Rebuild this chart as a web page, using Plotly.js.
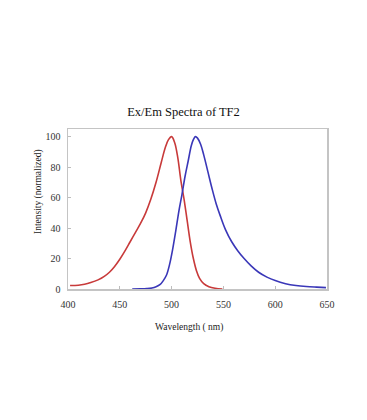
<!DOCTYPE html>
<html>
<head>
<meta charset="utf-8">
<script src="https://cdn.plot.ly/plotly-3.0.1.min.js"></script>
<style>html,body{margin:0;padding:0;background:#fff;}#chart{width:367px;height:420px;}</style>
</head>
<body>
<div id="chart"></div>
<script>
const exWavelength = [402, 410, 416, 422, 429, 435, 440, 445, 450, 455, 460, 465, 470, 475, 480, 485, 490, 494, 497, 500, 503, 506, 509, 512, 515, 518, 521, 524, 527, 531, 536, 542, 549];
const exIntensity  = [2.3, 2.5, 3.1, 4.2, 6, 8.3, 11, 14.8, 19.5, 25, 31, 37, 43, 50, 59, 70, 83, 93, 98, 100, 96, 86, 71, 59, 45, 31, 20, 12, 7, 3.5, 1.5, 0.5, 0];
const emWavelength = [462, 470, 476, 481, 485, 489, 492, 495, 498, 501, 504, 507, 510, 513, 516, 519, 521, 523, 525, 528, 531, 535, 539, 543, 547, 552, 558, 564, 570, 577, 584, 592, 600, 610, 620, 630, 640, 649];
const emIntensity  = [0, 0.1, 0.3, 0.7, 1.5, 3, 5.5, 9, 16, 26, 38, 51, 62, 74, 84, 94, 98, 100, 99, 95, 88, 77, 66, 56, 48, 39, 31, 25, 20, 15, 11, 7.8, 5.5, 3.5, 2.3, 1.6, 1.2, 0.9];
const xTicks = [400, 450, 500, 550, 600, 650];
const yTicks = [0, 20, 40, 60, 80, 100];

const serif = 'Liberation Serif, Times New Roman, serif';
const traces = [
  {x: exWavelength, y: exIntensity, mode: 'lines', line: {color: '#c83a3a', width: 1.6, shape: 'spline'}, hoverinfo: 'skip'},
  {x: emWavelength, y: emIntensity, mode: 'lines', line: {color: '#3a37b8', width: 1.6, shape: 'spline'}, hoverinfo: 'skip'}
];
const layout = {
  width: 367, height: 420,
  margin: {l: 68, r: 40, t: 129, b: 131},
  paper_bgcolor: '#fff', plot_bgcolor: '#fff',
  showlegend: false,
  font: {family: serif, color: '#222', size: 10},
  title: {text: 'Ex/Em Spectra of TF2', font: {family: serif, size: 12.5, color: '#111'},
          xref: 'container', x: 0.5, xanchor: 'center', yref: 'container', y: 1 - 111.5/420, yanchor: 'middle'},
  xaxis: {range: [400, 650], tickvals: xTicks, ticks: 'inside', ticklen: 3, tickcolor: '#bdbdbd',
          showline: true, mirror: true, linecolor: '#c4c4c4', linewidth: 1.5, showgrid: false, zeroline: false,
          ticklabelstandoff: 5,
          tickfont: {family: serif, size: 10, color: '#333'}, fixedrange: true},
  yaxis: {range: [0, 105], tickvals: yTicks, ticks: 'inside', ticklen: 3, tickcolor: '#bdbdbd',
          showline: true, mirror: true, linecolor: '#c4c4c4', linewidth: 1.5, showgrid: false, zeroline: false,
          ticklabelstandoff: 4,
          tickfont: {family: serif, size: 10, color: '#333'}, fixedrange: true},
  annotations: [
    {text: 'Wavelength ( nm)', xref: 'paper', yref: 'paper', x: (188.7-68)/259, y: -(327-289)/160,
     xanchor: 'center', yanchor: 'middle', showarrow: false, font: {family: serif, size: 9.5, color: '#222'}},
    {text: 'Intensity (normalized)', xref: 'paper', yref: 'paper', x: -(68-38)/259, y: (289-192)/160,
     xanchor: 'center', yanchor: 'middle', textangle: -90, showarrow: false, font: {family: serif, size: 9.5, color: '#222'}}
  ]
};
Plotly.newPlot('chart', traces, layout, {staticPlot: true, displayModeBar: false});
</script>
</body>
</html>
